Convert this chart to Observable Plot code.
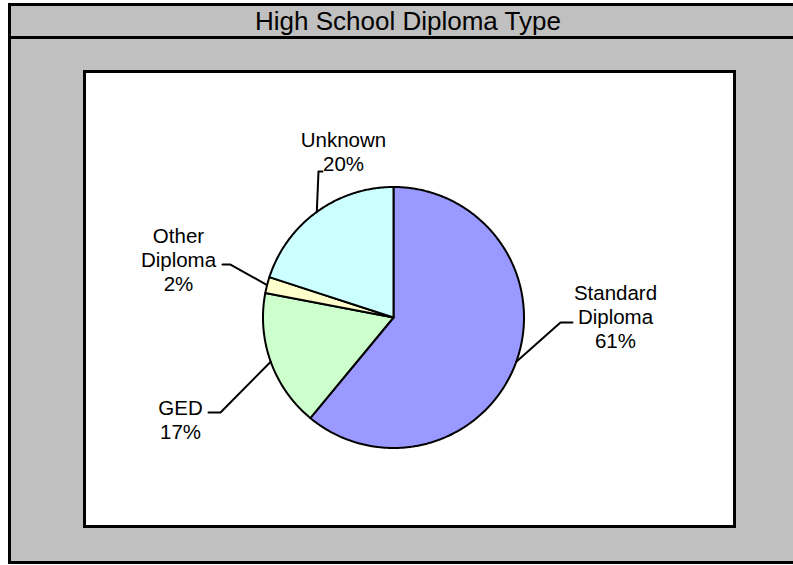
<!DOCTYPE html>
<html>
<head>
<meta charset="utf-8">
<script src="https://cdn.jsdelivr.net/npm/d3@7"></script>
<script src="https://cdn.jsdelivr.net/npm/@observablehq/plot@0.6"></script>
<style>
  body { margin: 0; background: #fff; font-family: "Liberation Sans", Arial, sans-serif; }
  #wrap { position: relative; width: 793px; height: 565px; overflow: hidden; }
  #frame { position: absolute; left: 8px; top: 3px; width: 800px; height: 561px; box-sizing: border-box;
           border: 3px solid #000; background: #c0c0c0; }
  #title { position: absolute; left: 0; right: 0; top: 0; height: 33px; box-sizing: border-box;
           border-bottom: 3px solid #000; text-align: center; font-size: 26px; line-height: 30px; color: #000; }
  #panel { position: absolute; left: 83px; top: 70px; width: 653px; height: 458px; box-sizing: border-box;
           border: 3px solid #000; background: #fff; }
  #wrap svg { position: absolute; left: 0; top: 0; }
</style>
</head>
<body>
<div id="wrap">
  <div id="frame"><div id="title"></div></div>
  <div id="panel"></div>
</div>
<script>
// ---- data ----
const titleText = "High School Diploma Type";
const categories = ["Standard Diploma", "GED", "Other Diploma", "Unknown"];
const values = [61, 17, 2, 20];
const colors = ["#9999FF", "#CCFFCC", "#FFFFCC", "#CCFFFF"];

document.getElementById("title").textContent = titleText;

// ---- layout ----
const W = 793, H = 565;
const cx = 393, cy = 317, r = 130.5;
// label placement offsets relative to the slice's leader anchor (edge at mid-angle)
const labelOffsets = {
  "Standard Diploma": {elbow: [44.2, -39.2], end: [56.2, -39.2], text: [99.2, -14.2]},
  "GED":              {elbow: [-50.2, 50.8], end: [-62.2, 50.8], text: [-90.2, 76.8]},
  "Other Diploma":    {elbow: [-36.6, -20.5], end: [-44.6, -20.5], text: [-88.6, 5.5]},
  "Unknown":          {elbow: [1.7, -40.4], end: [5.7, -40.4], text: [26.7, -41.4]}
};

const total = d3.sum(values);
const pt = (a, rr) => [cx + rr * Math.sin(a), cy - rr * Math.cos(a)];
let acc = 0;
const slices = categories.map((name, i) => {
  const a0 = acc / total * 2 * Math.PI;
  acc += values[i];
  const a1 = acc / total * 2 * Math.PI;
  return {name, value: values[i], a0, a1};
});

const slicePts = slices.flatMap(s => {
  const n = Math.max(2, Math.ceil((s.a1 - s.a0) / (Math.PI / 360)));
  const pts = [{name: s.name, x: cx, y: cy}];
  for (let k = 0; k <= n; k++) {
    const [x, y] = pt(s.a0 + (s.a1 - s.a0) * k / n, r);
    pts.push({name: s.name, x, y});
  }
  pts.push({name: s.name, x: cx, y: cy});
  return pts;
});

const leaderPts = [];
const labels = slices.map(s => {
  const [ax, ay] = pt((s.a0 + s.a1) / 2, r);
  const o = labelOffsets[s.name];
  leaderPts.push({name: s.name, x: ax, y: ay});
  leaderPts.push({name: s.name, x: ax + o.elbow[0], y: ay + o.elbow[1]});
  leaderPts.push({name: s.name, x: ax + o.end[0], y: ay + o.end[1]});
  const pct = Math.round(s.value / total * 100);
  return {name: s.name, x: ax + o.text[0], y: ay + o.text[1],
          label: s.name.replace(" ", "\n") + "\n" + pct + "%"};
});

const chart = Plot.plot({
  width: W, height: H, margin: 0,
  x: {domain: [0, W], range: [0, W], axis: null},
  y: {domain: [0, H], range: [0, H], axis: null},
  color: {domain: categories, range: colors},
  style: {background: "transparent", overflow: "visible", fontFamily: "'Liberation Sans', Arial, sans-serif"},
  marks: [
    Plot.line(slicePts, {x: "x", y: "y", z: "name", fill: "name", stroke: "#000", strokeWidth: 2, strokeLinejoin: "round"}),
    Plot.line(leaderPts, {x: "x", y: "y", z: "name", stroke: "#000", strokeWidth: 2}),
    Plot.text(labels, {x: "x", y: "y", text: "label", textAnchor: "middle", lineAnchor: "bottom",
                       lineHeight: 1.17, fontSize: 20.5, fill: "#000", fontFamily: "'Liberation Sans', Arial, sans-serif"})
  ]
});
document.getElementById("wrap").append(chart);
</script>
</body>
</html>
